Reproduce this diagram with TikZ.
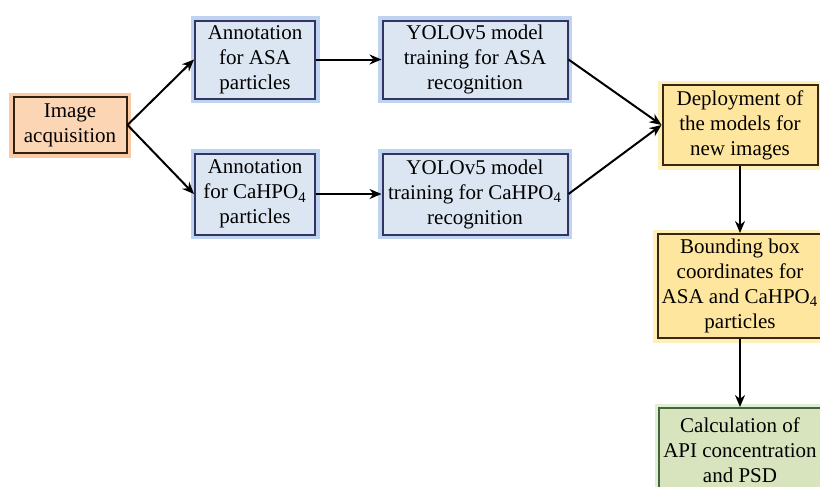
\documentclass[tikz,border=0pt]{standalone}
\usepackage{fontspec}
\setmainfont{Liberation Serif}
\usetikzlibrary{arrows.meta,positioning}
\definecolor{peachFill}{HTML}{FCD5B5}
\definecolor{peachGlow}{HTML}{FBC9A2}
\definecolor{blueFill}{HTML}{DCE6F2}
\definecolor{blueGlow}{HTML}{BDD3F0}
\definecolor{yellowFill}{HTML}{FFE69E}
\definecolor{yellowGlow}{HTML}{FFF0B8}
\definecolor{greenFill}{HTML}{D7E4BD}
\definecolor{greenGlow}{HTML}{E3EDD2}
\tikzset{
  flowBox/.style={draw=#1, line width=1pt, align=center, font=\fontsize{10.5}{12.5}\selectfont, inner sep=2pt},
  startBox/.style={flowBox={black!75!brown}, fill=peachFill, preaction={draw=peachGlow, line width=4.5pt}, minimum width=56.5pt, minimum height=28pt},
  annotBox/.style={flowBox={black!70!blue!60!gray}, fill=blueFill, preaction={draw=blueGlow, line width=4.5pt}, minimum width=60pt, minimum height=39pt},
  trainBox/.style={flowBox={black!70!blue!60!gray}, fill=blueFill, preaction={draw=blueGlow, line width=4.5pt}, minimum width=92.5pt, minimum height=39pt},
  outBox/.style={flowBox={black!70!brown}, fill=yellowFill, preaction={draw=yellowGlow, line width=4.5pt}, minimum width=77.5pt},
  resultBox/.style={flowBox={black!70!green!50!gray}, fill=greenFill, preaction={draw=greenGlow, line width=4.5pt}, minimum width=78pt, minimum height=42pt},
  flowArrow/.style={-{Stealth[length=6pt,width=5pt]}, line width=1pt, black}
}
\newcommand{\hpo}{CaHPO\textsubscript{4}}
\begin{document}
\begin{tikzpicture}[x=0.5pt, y=-0.5pt]
      \useasboundingbox (0,0) rectangle (820,487);
      \node[startBox] (acquire) at (70,125) {Image\\acquisition};
      \node[annotBox] (annotASA) at (255,59.5) {Annotation\\for ASA\\particles};
      \node[annotBox, minimum height=40.5pt] (annotCa) at (255,194) {Annotation\\for \hpo\\particles};
      \node[trainBox] (trainASA) at (475,59.5) {YOLOv5 model\\training for ASA\\recognition};
      \node[trainBox, minimum height=40.5pt] (trainCa) at (475,194) {YOLOv5 model\\training for \hpo\\recognition};
      \node[outBox, minimum height=40pt] (deploy) at (740,125) {Deployment of\\the models for\\new images};
      \node[outBox, minimum height=52pt] (bbox) at (740,286) {Bounding box\\coordinates for\\ASA and \hpo\\particles};
      \node[resultBox] (calc) at (740,450) {Calculation of\\API concentration\\and PSD};
      \draw[flowArrow] (acquire.east) -- (annotASA.west);
      \draw[flowArrow] (acquire.east) -- (annotCa.west);
      \draw[flowArrow] (annotASA) -- (trainASA);
      \draw[flowArrow] (annotCa) -- (trainCa);
      \draw[flowArrow] (trainASA.east) -- (deploy.west);
      \draw[flowArrow] (trainCa.east) -- (deploy.west);
      \draw[flowArrow] (deploy) -- (bbox);
      \draw[flowArrow] (bbox) -- (calc);
    \end{tikzpicture}
\end{document}
